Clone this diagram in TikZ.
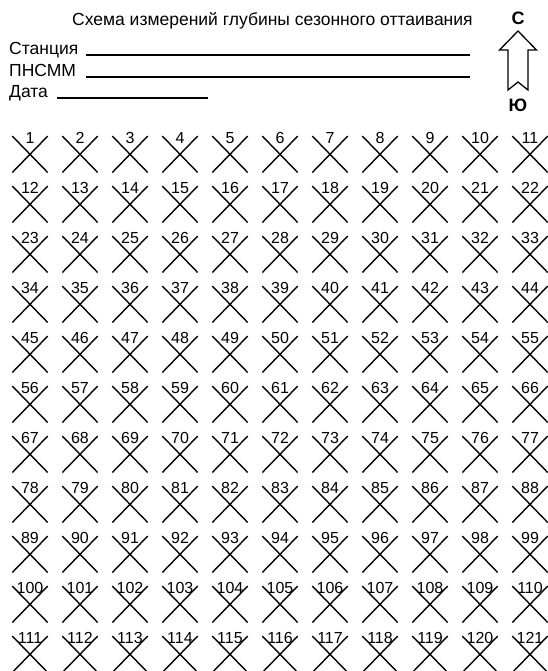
\documentclass[tikz,border=0pt]{standalone}
\usepackage{fontspec}
\setmainfont{Liberation Sans}
\usetikzlibrary{shapes.misc}
\begin{document}
\begin{tikzpicture}[x=1pt,y=-1pt,
  crossmark/.style={cross out, draw, line width=1.4pt, minimum width=34pt, minimum height=35pt, inner sep=0pt},
  numlabel/.style={font=\fontsize{16}{17}\selectfont, inner sep=0pt},
  hdr/.style={font=\fontsize{17.5}{20}\selectfont, inner sep=0pt, anchor=base west},
  dir/.style={font=\bfseries\fontsize{18}{20}\selectfont, inner sep=0pt},
  rule/.style={line width=1.3pt},
  compass/.style={line width=1.3pt, line join=miter}]
\useasboundingbox (0,0) rectangle (548,671);
% header
\node[hdr] (title) at (72,26) {Схема измерений глубины сезонного оттаивания};
\node[hdr] (st) at (9,55) {Станция};
\node[hdr] (pn) at (9,77) {ПНСММ};
\node[hdr] (dt) at (9,98) {Дата};
\coordinate (l1a) at (86,55); \coordinate (l1b) at (470,55);
\coordinate (l2a) at (86,77); \coordinate (l2b) at (470,77);
\coordinate (l3a) at (57,98); \coordinate (l3b) at (208,98);
\draw[rule] (l1a) -- (l1b);
\draw[rule] (l2a) -- (l2b);
\draw[rule] (l3a) -- (l3b);
% compass arrow
\draw[compass] (518,31) -- (536.5,50) -- (528,50) -- (528,90) -- (518,82)
  -- (508,90) -- (508,50) -- (499.5,50) -- cycle;
\node[dir] (north) at (518,18.5) {С};
\node[dir] (south) at (518,105) {Ю};
% grid of crosses
\foreach \r in {0,...,10} {
  \foreach \c in {0,...,10} {
    \pgfmathtruncatemacro\n{\r*11+\c+1}
    \node[crossmark] (x\n) at ({30+50*\c},{154.3+50*\r}) {};
    \node[numlabel] (n\n) at ({30+50*\c},{138.3+50*\r}) {\n};
  }
}
\end{tikzpicture}
\end{document}
